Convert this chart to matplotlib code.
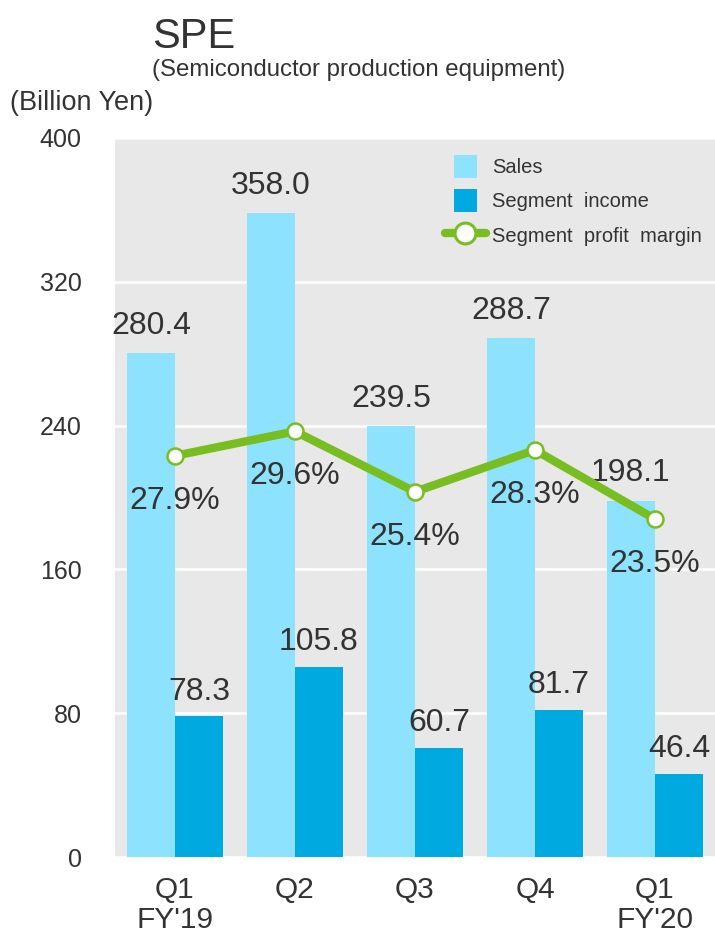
import numpy as np
import matplotlib.pyplot as plt
from matplotlib.lines import Line2D
from matplotlib.patches import Patch, Rectangle
from matplotlib.legend_handler import HandlerPatch

plt.rcParams['font.family'] = ['Liberation Sans', 'DejaVu Sans']

# data
quarters = ["Q1\nFY'19", "Q2", "Q3", "Q4", "Q1\nFY'20"]
sales = [280.4, 358.0, 239.5, 288.7, 198.1]
income = [78.3, 105.8, 60.7, 81.7, 46.4]
margin = [27.9, 29.6, 25.4, 28.3, 23.5]

c_sales = '#8de3fd'
c_income = '#00a9e0'
c_green = '#78be20'
c_text = '#333333'
c_bg = '#e8e8e8'


class SquareHandler(HandlerPatch):
    # square legend patches, centred in the handle box
    def create_artists(self, legend, orig_handle, xdescent, ydescent, width, height, fontsize, trans):
        side = 16.5
        r = Rectangle((width / 2 - side / 2 - xdescent, height / 2 - side / 2 - ydescent), side, side,
                      facecolor=orig_handle.get_facecolor(), edgecolor='none', transform=trans)
        return [r]


fig = plt.figure(figsize=(7.15, 9.36), dpi=100)
ax = fig.add_axes([0.1608, 0.0844, 0.8392, 0.7682])
ax.set_facecolor(c_bg)
x = np.arange(len(quarters))
w = 0.4

ax.bar(x - w / 2, sales, w, color=c_sales, zorder=2)
ax.bar(x + w / 2, income, w, color=c_income, zorder=2)

for xi, v in zip(x, sales):
    ax.annotate(f'{v:.1f}', (xi - w / 2, v), xytext=(0, 14), textcoords='offset points',
                ha='center', va='baseline', fontsize=23, color=c_text, zorder=5)
for xi, v in zip(x, income):
    ax.annotate(f'{v:.1f}', (xi + w / 2, v), xytext=(0, 12), textcoords='offset points',
                ha='center', va='baseline', fontsize=23, color=c_text, zorder=5)

ax.set_xlim(-0.5, len(quarters) - 0.5)
ax.set_ylim(0, 400)
ax.set_yticks([0, 80, 160, 240, 320, 400])
ax.set_xticks(x)
ax.set_xticklabels(quarters, fontsize=21.5, color=c_text, linespacing=1.05)
ax.tick_params(axis='y', length=0, pad=24, labelsize=18, labelcolor=c_text)
ax.tick_params(axis='x', length=0, pad=14)
ax.grid(axis='y', color='white', linewidth=1.8)
ax.set_axisbelow(True)
for s in ax.spines.values():
    s.set_visible(False)

# margin line on a hidden second scale
ax2 = ax.twinx()
ax2.set_ylim(0, 50)
ax2.axis('off')
ax2.plot(x, margin, color=c_green, linewidth=6, marker='o', markersize=11.5,
         markerfacecolor='white', markeredgecolor=c_green, markeredgewidth=1.8, zorder=4)
for xi, m in zip(x, margin):
    ax2.annotate(f'{m:.1f}%', (xi, m), xytext=(0, -38), textcoords='offset points',
                 ha='center', va='baseline', fontsize=23, color=c_text)

handles = [Patch(color=c_sales), Patch(color=c_income),
           Line2D([], [], color=c_green, linewidth=6, marker='o', markersize=15,
                  markerfacecolor='white', markeredgecolor=c_green, markeredgewidth=2.2,
                  solid_capstyle='round')]
labels = ['Sales', 'Segment  income', 'Segment  profit  margin']
leg = ax2.legend(handles, labels, loc='upper left', bbox_to_anchor=(0.55, 0.9763),
                 frameon=False, fontsize=14.5, handlelength=2.02, handleheight=1.35,
                 handletextpad=0.32, labelspacing=0.58, borderpad=0, borderaxespad=0,
                 handler_map={Patch: SquareHandler()})
for t in leg.get_texts():
    t.set_color(c_text)

fig.text(152 / 715, 1 - 48 / 936, 'SPE', fontsize=30, color=c_text, va='baseline')
fig.text(152 / 715, 1 - 76 / 936, '(Semiconductor production equipment)', fontsize=17.3,
         color=c_text, va='baseline')
fig.text(10 / 715, 1 - 110 / 936, '(Billion Yen)', fontsize=19.5, color=c_text, va='baseline')

fig.savefig('out.png', dpi=100)
